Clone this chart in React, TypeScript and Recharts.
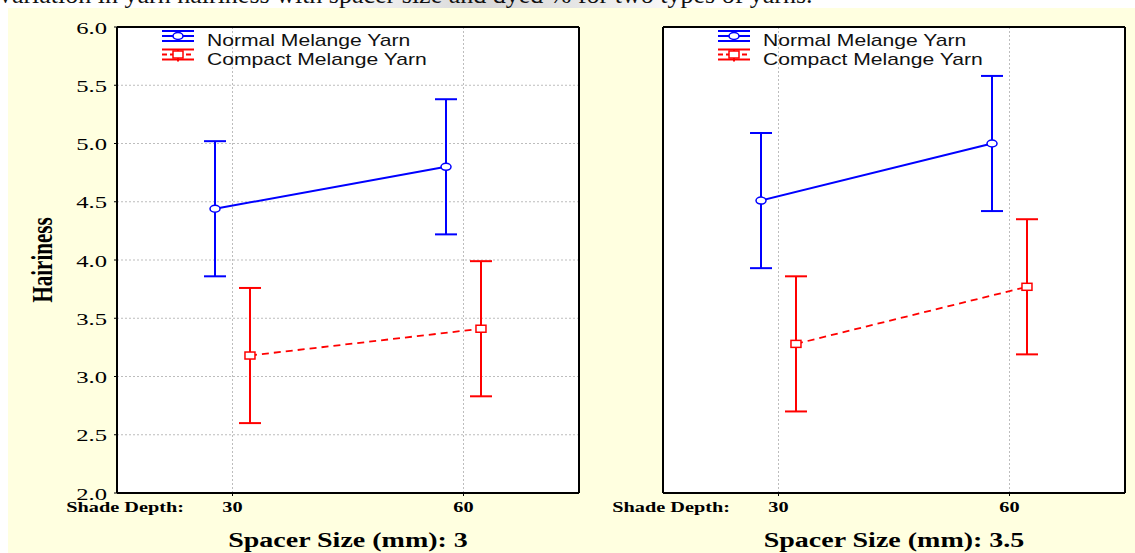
import React from "react";
import {
  ComposedChart,
  Line,
  XAxis,
  YAxis,
  CartesianGrid,
  ErrorBar,
  Legend,
} from "recharts";

const shadeDepth = [30, 60];
const yTicks = [2.0, 2.5, 3.0, 3.5, 4.0, 4.5, 5.0, 5.5, 6.0];

// spacer size 3 mm
const normal3 = [4.44, 4.8];
const normal3Err = [0.58, 0.58];
const compact3 = [3.18, 3.41];
const compact3Err = [0.58, 0.58];

// spacer size 3.5 mm
const normal35 = [4.51, 5.0];
const normal35Err = [0.58, 0.58];
const compact35 = [3.28, 3.77];
const compact35Err = [0.58, 0.58];

const seriesNames = ["Normal Melange Yarn", "Compact Melange Yarn"];
const spacerTitles = ["Spacer Size (mm): 3", "Spacer Size (mm): 3.5"];
const caption =
  "Variation in yarn hairiness with spacer size and dyed % for two types of yarns.";

const BLUE = "#0000ff";
const RED = "#ff0000";
const SERIF = "'Liberation Serif', 'Times New Roman', serif";
const SANS = "'Liberation Sans', Arial, sans-serif";
const SX = 1.45; // the source picture is stretched sideways
const X_DOMAIN = [15, 75];
const SHIFT = 2.27; // side offset of the two series around each tick

const buildRows = (n: number[], ne: number[], c: number[], ce: number[]) =>
  shadeDepth.map((d, i) => ({
    depth: d,
    normal: n[i],
    normalErr: ne[i],
    compact: c[i],
    compactErr: ce[i],
  }));

const rows3 = buildRows(normal3, normal3Err, compact3, compact3Err);
const rows35 = buildRows(normal35, normal35Err, compact35, compact35Err);

const XTick = (p: any) => (
  <text
    transform={`translate(${p.x},${p.y}) scale(${SX},1)`}
    dy={14}
    textAnchor="middle"
    fontFamily={SERIF}
    fontWeight="bold"
    fontSize={14}
    fill="#000"
  >
    {p.payload.value}
  </text>
);

const YTick = (p: any) => (
  <text
    transform={`translate(${p.x},${p.y}) scale(${SX},1)`}
    dy={6.5}
    textAnchor="end"
    fontFamily={SERIF}
    fontSize={17}
    fill="#000"
  >
    {Number(p.payload.value).toFixed(1)}
  </text>
);

const XTitle = (props: any) => {
  const { x, y, width } = props.viewBox;
  return (
    <g>
      <text
        transform={`translate(${x + 67},${y + 19}) scale(${SX},1)`}
        textAnchor="end"
        fontFamily={SERIF}
        fontWeight="bold"
        fontSize={14}
        fill="#000"
      >
        Shade Depth:
      </text>
      <text
        transform={`translate(${x + width / 2},${y + 54}) scale(1.4,1)`}
        textAnchor="middle"
        fontFamily={SERIF}
        fontWeight="bold"
        fontSize={20}
        fill="#000"
      >
        {props.title}
      </text>
    </g>
  );
};

const YTitle = (props: any) => {
  const { x, y, height } = props.viewBox;
  return (
    <text
      transform={`translate(${x - 5},${y + height / 2}) scale(${SX},1) rotate(-90)`}
      textAnchor="middle"
      fontFamily={SERIF}
      fontWeight="bold"
      fontSize={21}
      fill="#000"
    >
      Hairiness
    </text>
  );
};

const LegendBox = () => (
  <svg width={300} height={45} style={{ display: "block", overflow: "visible" }}>
    <g transform="translate(0,10)" stroke={BLUE} strokeWidth={2}>
      <line x1={2} x2={34} y1={-5} y2={-5} />
      <line x1={2} x2={34} y1={5} y2={5} />
      <line x1={2} x2={34} y1={0} y2={0} />
      <line x1={18} x2={18} y1={-5} y2={5} />
      <ellipse cx={18} cy={0} rx={5} ry={3.5} fill="#fff" strokeWidth={1.5} />
    </g>
    <g transform="translate(0,28.5)" stroke={RED} strokeWidth={2}>
      <line x1={2} x2={34} y1={-5} y2={-5} />
      <line x1={2} x2={34} y1={5} y2={5} />
      <line x1={2} x2={34} y1={0} y2={0} strokeDasharray="5 3" />
      <line x1={18} x2={18} y1={-5} y2={7} />
      <rect x={13} y={-3.5} width={10} height={7} fill="#fff" strokeWidth={1.5} />
    </g>
    {seriesNames.map((name, i) => (
      <text
        key={name}
        transform={`translate(47,${i === 0 ? 20 : 39}) scale(1.32,1)`}
        fontFamily={SANS}
        fontSize={16}
        fill="#111"
      >
        {name}
      </text>
    ))}
  </svg>
);

const frame = { stroke: "#000", strokeWidth: 2 };

type PanelProps = {
  data: any[];
  title: string;
  width: number;
  left: number;
  right: number;
  first: boolean;
  legendLeft: number;
};

const Panel = ({ data, title, width, left, right, first, legendLeft }: PanelProps) => (
  <ComposedChart
    width={width}
    height={553}
    data={data}
    margin={{ top: 27, right, bottom: 0, left }}
  >
    <CartesianGrid
      xAxisId="main"
      yAxisId="main"
      stroke="#bdbdbd"
      strokeDasharray="2 2"
      fill="#fff"
    />
    <XAxis
      xAxisId="main"
      dataKey="depth"
      type="number"
      domain={X_DOMAIN}
      ticks={shadeDepth}
      allowDataOverflow
      height={60}
      tickSize={3}
      tickMargin={2}
      axisLine={frame}
      tickLine={{ stroke: "#000" }}
      tick={<XTick />}
      label={<XTitle title={title} />}
    />
    <XAxis
      xAxisId="top"
      orientation="top"
      dataKey="depth"
      type="number"
      domain={X_DOMAIN}
      ticks={shadeDepth}
      allowDataOverflow
      height={1}
      mirror
      tick={false}
      tickSize={3}
      axisLine={frame}
      tickLine={{ stroke: "#000" }}
    />
    <XAxis
      xAxisId="normal"
      orientation="top"
      dataKey="depth"
      type="number"
      domain={[X_DOMAIN[0] + SHIFT, X_DOMAIN[1] + SHIFT]}
      allowDataOverflow
      height={0}
      hide
    />
    <XAxis
      xAxisId="compact"
      orientation="top"
      dataKey="depth"
      type="number"
      domain={[X_DOMAIN[0] - SHIFT, X_DOMAIN[1] - SHIFT]}
      allowDataOverflow
      height={0}
      hide
    />
    <YAxis
      yAxisId="main"
      type="number"
      domain={[2, 6]}
      ticks={yTicks}
      allowDataOverflow
      width={60}
      mirror={!first}
      tickSize={3}
      tickMargin={7}
      axisLine={frame}
      tickLine={{ stroke: "#000" }}
      tick={first ? <YTick /> : false}
      label={first ? <YTitle /> : undefined}
    />
    <YAxis
      yAxisId="right"
      orientation="right"
      type="number"
      domain={[2, 6]}
      ticks={yTicks}
      allowDataOverflow
      width={1}
      mirror
      tick={false}
      tickSize={3}
      axisLine={frame}
      tickLine={{ stroke: "#000" }}
    />
    <Line
      xAxisId="normal"
      yAxisId="main"
      dataKey="normal"
      name={seriesNames[0]}
      stroke={BLUE}
      strokeWidth={2}
      isAnimationActive={false}
      activeDot={false}
      dot={(p: any) => (
        <ellipse
          key={`n-${p.index}`}
          cx={p.cx}
          cy={p.cy}
          rx={5}
          ry={3.5}
          fill="#fff"
          stroke={BLUE}
          strokeWidth={1.5}
        />
      )}
    >
      <ErrorBar
        dataKey="normalErr"
        direction="y"
        width={11}
        stroke={BLUE}
        strokeWidth={2}
        isAnimationActive={false}
      />
    </Line>
    <Line
      xAxisId="compact"
      yAxisId="main"
      dataKey="compact"
      name={seriesNames[1]}
      stroke={RED}
      strokeWidth={1.8}
      strokeDasharray="7 5"
      isAnimationActive={false}
      activeDot={false}
      dot={(p: any) => (
        <rect
          key={`c-${p.index}`}
          x={p.cx - 5}
          y={p.cy - 3.5}
          width={10}
          height={7}
          fill="#fff"
          stroke={RED}
          strokeWidth={1.5}
        />
      )}
    >
      <ErrorBar
        dataKey="compactErr"
        direction="y"
        width={11}
        stroke={RED}
        strokeWidth={2}
        isAnimationActive={false}
      />
    </Line>
    <Legend
      layout="horizontal"
      verticalAlign="middle"
      align="center"
      wrapperStyle={{ left: legendLeft, top: 26, width: 300, height: 45 }}
      content={<LegendBox />}
    />
  </ComposedChart>
);

export default function App() {
  return (
    <div style={{ position: "relative", width: 1135, height: 553, overflow: "hidden", background: "#fff" }}>
      <style>{"body{margin:0}"}</style>
      <div
        style={{
          position: "absolute",
          left: 0,
          top: 0,
          width: 1135,
          height: 8,
          overflow: "hidden",
          background: "linear-gradient(90deg, #fff 0%, #fff 28%, #d8d8d8 42%, #e4e4e4 50%, #fff 62%, #fff 100%)",
        }}
      >
        <span
          style={{
            position: "absolute",
            left: -4,
            top: -18,
            fontFamily: SERIF,
            fontSize: 26,
            lineHeight: "26px",
            whiteSpace: "nowrap",
            color: "#111",
          }}
        >
          {caption}
        </span>
      </div>
      <div style={{ position: "absolute", left: 8, top: 8, right: 0, bottom: 0, background: "#ffffe0" }} />
      <div style={{ position: "absolute", left: 0, top: 0 }}>
        <Panel data={rows3} title={spacerTitles[0]} width={600} left={57} right={21} first legendLeft={160} />
      </div>
      <div style={{ position: "absolute", left: 580, top: 0 }}>
        <Panel data={rows35} title={spacerTitles[1]} width={555} left={83} right={10} first={false} legendLeft={136} />
      </div>
    </div>
  );
}
